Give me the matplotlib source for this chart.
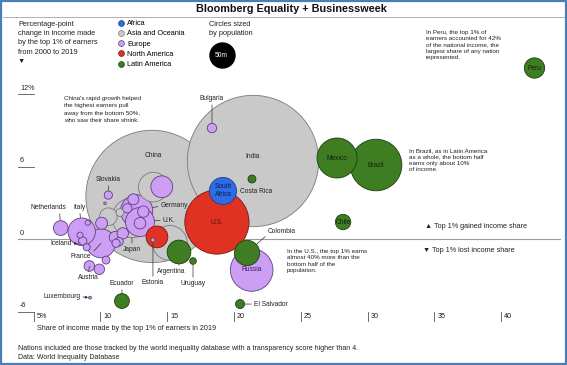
import matplotlib
matplotlib.use('Agg')
import matplotlib.pyplot as plt
from matplotlib.lines import Line2D
from matplotlib.patches import Rectangle

plt.rcParams['font.family'] = ['Liberation Sans', 'DejaVu Sans']

# Datos
countries = ['China', 'India', 'Japan', 'Vietnam', 'Thailand', 'Australia', 'New Zealand',
             'U.S.', 'Canada', 'South Africa',
             'Costa Rica', 'Mexico', 'Brazil', 'Chile', 'Peru', 'Colombia', 'Argentina',
             'Uruguay', 'Ecuador', 'El Salvador',
             'Russia', 'Bulgaria', 'Germany', 'U.K.', 'France', 'Italy', 'Poland',
             'Netherlands', 'Belgium', 'Czechia', 'Sweden', 'Portugal', 'Greece', 'Hungary',
             'Austria', 'Switzerland', 'Serbia', 'Denmark', 'Finland', 'Slovakia', 'Norway',
             'Ireland', 'Croatia', 'Lithuania', 'Slovenia', 'Estonia', 'Malta',
             'Luxembourg', 'Iceland']
regions = ['Asia and Oceania'] * 7 + ['North America'] * 2 + ['Africa'] + \
          ['Latin America'] * 10 + ['Europe'] * 29
top1_share = [13.87, 21.43, 12.37, 15.2, 13.97, 10.6, 11.47,
              18.73, 14.24, 19.18,
              21.35, 27.72, 30.64, 28.17, 42.5, 20.98, 15.89, 16.94, 11.62, 20.46,
              21.33, 18.36, 12.72, 12.97, 10.05, 8.61, 14.60,
              7.04, 10.10, 11.10, 11.68, 13.22, 12.97, 12.47,
              9.18, 9.93, 12.02, 11.40, 8.68, 10.60, 11.18,
              10.43, 8.98, 8.48, 9.06, 13.94, 10.35, 9.23, 8.41]
change_pp = [3.55, 6.48, 1.78, -0.30, 4.32, 1.87, 2.22,
             1.43, 0.20, 4.00,
             4.99, 6.73, 6.15, 1.43, 14.18, -1.13, -1.05, -1.80, -5.11, -5.36,
             -2.54, 9.21, 2.35, 1.43, -0.33, 0.63, 4.35,
             0.93, 1.33, 0.17, 0.49, 2.29, 1.33, 3.31,
             -2.21, -2.48, 2.57, -0.20, -0.14, 3.66, -0.33,
             -1.72, -0.66, 0.35, 1.37, -0.06, 2.98, -4.83, -0.39]
population = [1400, 1380, 126, 97, 70, 25, 5,
              330, 38, 59,
              5, 128, 213, 19, 33, 51, 45, 3.5, 17.6, 6.5,
              145, 7, 83, 67, 67, 60, 38,
              17.4, 11.5, 10.7, 10.4, 10.3, 10.7, 9.7,
              9, 8.6, 7, 5.8, 5.5, 5.4, 5.4,
              5, 4, 2.8, 2.1, 1.3, 0.5, 0.63, 0.36]

region_names = ['Africa', 'Asia and Oceania', 'Europe', 'North America', 'Latin America']
region_fill = ['#2f6be3', '#c9c9c9', '#cc9ff5', '#e03222', '#3f7d22']
region_edge = ['#1d3f8a', '#7a7a7a', '#5e3f80', '#7a1810', '#1f3d10']

x_ticks = [5, 10, 15, 20, 25, 30, 35, 40]
x_tick_labels = ['5%', '10', '15', '20', '25', '30', '35', '40']
y_ticks = [12, 6, 0, -6]
y_tick_labels = ['12%', '6', '0', '-6']

W, H = 567, 365
X0, SX = 33.5, 13.36     # pixel de x=5 y pixeles por unidad
Y0, SY = 239.3, 12.08    # pixel de y=0 y pixeles por unidad
S_PER_M = 6.48           # area de marcador por millon de habitantes


def dx(px):
    return 5 + (px - X0) / SX


def dy(py):
    return (Y0 - py) / SY


def ft(px, py, s, **kw):
    return fig.text(px / W, 1 - py / H, s, **kw)


fig = plt.figure(figsize=(W / 100, H / 100), dpi=100)
ax = fig.add_axes([0, 0, 1, 1])
ax.set_xlim(dx(0), dx(W))
ax.set_ylim(dy(H), dy(0))
ax.axis('off')

# Burbujas, de mayor a menor para que las pequeñas queden encima
order = sorted(range(len(countries)), key=lambda i: -population[i])
ax.scatter([top1_share[i] for i in order], [change_pp[i] for i in order],
           s=[S_PER_M * population[i] for i in order],
           c=[region_fill[region_names.index(regions[i])] for i in order],
           edgecolors=[region_edge[region_names.index(regions[i])] for i in order],
           linewidths=0.6, zorder=3)

# Ejes
ax.axhline(0, xmin=18 / W, xmax=560 / W, color='#9a9a9a', lw=0.8, zorder=1)
for v, lab in zip(y_ticks, y_tick_labels):
    if v != 0:
        ax.plot([dx(18), dx(34)], [v, v], color='#555', lw=0.6, zorder=1)
    ax.annotate(lab, (dx(20), v), xytext=(0, 2), textcoords='offset points',
                fontsize=5.2, ha='left', va='bottom', color='#222')
for v, lab in zip(x_ticks, x_tick_labels):
    ax.plot([v, v], [-6, dy(321)], color='#555', lw=0.6, zorder=1)
    ax.annotate(lab, (v, dy(317)), xytext=(2.2, 0), textcoords='offset points',
                fontsize=5.2, ha='left', va='center', color='#222')

# Etiquetas de países
def label(name, ox, oy, ha='center', va='center', relpos=None, arrow='-',
          color='#222', text=None):
    i = countries.index(name)
    r_pt = (S_PER_M * population[i]) ** 0.5 / 2
    kw = dict(xytext=(ox * 0.72, oy * 0.72), textcoords='offset points',
              fontsize=4.8, ha=ha, va=va, color=color, zorder=5)
    if relpos is not None:
        kw['arrowprops'] = dict(arrowstyle=arrow, lw=0.5, color='#333',
                                shrinkA=0, shrinkB=r_pt + 0.3, relpos=relpos,
                                mutation_scale=4)
    ax.annotate(text or name, (top1_share[i], change_pp[i]), **kw)


label('Bulgaria', 0, 26, va='bottom', relpos=(0.5, 0))
label('Slovakia', 0, 12, va='bottom', relpos=(0.5, 0))
label('Netherlands', -12, 17, va='bottom', relpos=(0.8, 0))
label('Italy', -2, 21, va='bottom', relpos=(0.5, 0))
label('Germany', 24, 5, ha='left', relpos=(0, 0.5))
label('U.K.', 23, 2, ha='left', relpos=(0, 0.5))
label('Japan', 0, -28, va='top', relpos=(0.5, 1))
label('Iceland', -7, 1, ha='right', relpos=(1, 0.5), arrow='-|>')
label('France', -10, -13, ha='right', relpos=(1, 0.8))
label('Austria', -1, -8, va='top', relpos=(0.5, 1))
label('Luxembourg', -10, 1, ha='right', relpos=(1, 0.5), arrow='-|>')
label('Ecuador', 0, 14, va='bottom', relpos=(0.5, 0))
label('Estonia', 0, -39, va='top', relpos=(0.5, 1))
label('Argentina', -8, -16, va='top', relpos=(0.78, 1))
label('Uruguay', 0, -19, va='top', relpos=(0.5, 1))
label('Colombia', 21, 21, ha='left', relpos=(0, 0.2))
label('El Salvador', 14, 0, ha='left', relpos=(0, 0.5))
label('Costa Rica', 4, -12)
label('China', 1, 41)
label('India', 0, 5)
label('U.S.', 0, 0, color='#5a1008')
label('South Africa', 0, 0, color='#0d1f55', text='South\nAfrica')
label('Russia', 0, 0, color='#3a2050')
label('Mexico', 0, 0, color='#10250a')
label('Brazil', 0, 0, color='#10250a')
label('Chile', 0, 0, color='#10250a')
label('Peru', 0, 0, color='#10250a')

# Notas
note = dict(fontsize=4.5, color='#222', va='top', ha='left', linespacing=1.32)
ft(64, 96, "China's rapid growth helped\nthe highest earners pull\naway from the bottom 50%,\n"
   "who saw their share shrink.", **dict(note, linespacing=1.6))
ft(426, 30, "In Peru, the top 1% of\nearners accounted for 42%\nof the national income, the\n"
   "largest share of any nation\nrepresented.", **note)
ft(409, 148, "In Brazil, as in Latin America\nas a whole, the bottom half\nearns only about 10%\n"
   "of income.", **note)
ft(287, 249, "In the U.S., the top 1% earns\nalmost 40% more than the\nbottom half of the\n"
   "population.", **note)
ft(425, 227, "\u25B2 Top 1% gained income share", fontsize=5.2, va='center', color='#222')
ft(423, 251, "\u25BC Top 1% lost income share", fontsize=5.2, va='center', color='#222')

# Cabecera
ft(291, 9, 'Bloomberg Equality + Businessweek', fontsize=7.8, fontweight='bold',
   ha='center', va='center', color='#111')
fig.add_artist(Line2D([3 / W, 564 / W], [1 - 17 / H, 1 - 17 / H], color='#b0b0b0', lw=0.7))
ft(18, 21, 'Percentage-point\nchange in income made\nby the top 1% of earners\nfrom 2000 to 2019\n\u25BC',
   fontsize=5.3, va='top', color='#222', linespacing=1.45)
ft(209, 21, 'Circles sized\nby population', fontsize=5.3, va='top', color='#222', linespacing=1.45)
ax.scatter([dx(221.7)], [dy(55)], s=S_PER_M * 50, c='black', zorder=3)
ax.text(dx(221.7), dy(55), '50m', color='white', fontsize=4.8, ha='center', va='center', zorder=4)

handles = [Line2D([], [], marker='o', ls='', markersize=4.2, markerfacecolor=f,
                  markeredgecolor=e, markeredgewidth=0.5)
           for f, e in zip(region_fill, region_edge)]
fig.legend(handles, region_names, loc='upper left', bbox_to_anchor=(117 / W, 1 - 20 / H),
           frameon=False, fontsize=5.3, handletextpad=0.35, labelspacing=0.42,
           borderpad=0, borderaxespad=0, handlelength=1.0)

# Pie
ft(37, 328, 'Share of income made by the top 1% of earners in 2019', fontsize=5.2,
   va='center', color='#222')
ft(18, 349, 'Nations included are those tracked by the world inequality database with a '
   'transparency score higher than 4.', fontsize=5.0, va='center', color='#222')
ft(18, 357.5, 'Data: World Inequality Database', fontsize=5.0, va='center', color='#222')

fig.add_artist(Rectangle((0.002, 0.003), 0.996, 0.994, transform=fig.transFigure,
                         fill=False, edgecolor='#4a7ebb', lw=1.6))

fig.savefig('out.png', dpi=100)
